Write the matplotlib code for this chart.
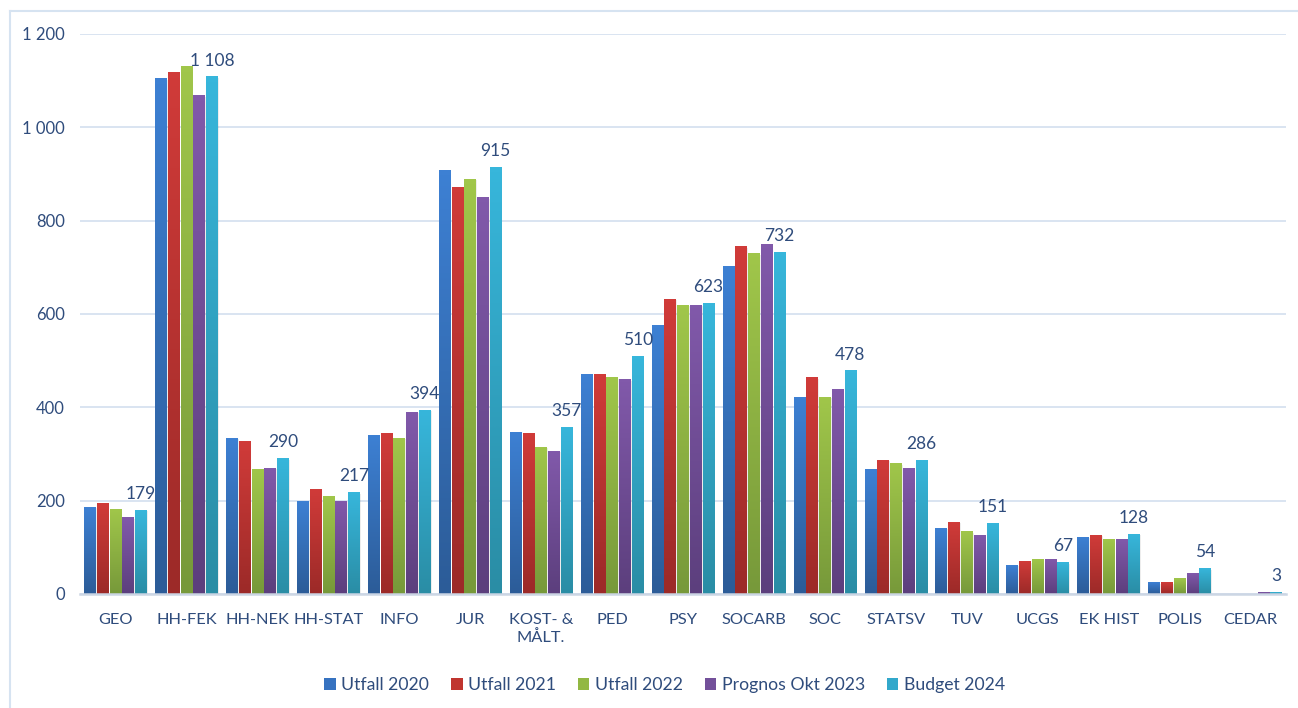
import numpy as np
import matplotlib
matplotlib.use("Agg")
import matplotlib.pyplot as plt
from matplotlib.colors import LinearSegmentedColormap
from matplotlib.patches import Rectangle, Patch
from matplotlib.lines import Line2D

plt.rcParams['font.family'] = ['Lato', 'DejaVu Sans']

categories = ["GEO", "HH-FEK", "HH-NEK", "HH-STAT", "INFO", "JUR", "KOST- &\nMÅLT.",
              "PED", "PSY", "SOCARB", "SOC", "STATSV", "TUV", "UCGS", "EK HIST", "POLIS", "CEDAR"]
series_names = ["Utfall 2020", "Utfall 2021", "Utfall 2022", "Prognos Okt 2023", "Budget 2024"]

utfall_2020 = [186, 1104, 334, 199, 339, 908, 347, 471, 576, 701, 422, 266, 141, 62, 122, 24, 0]
utfall_2021 = [195, 1118, 326, 223, 343, 872, 343, 471, 632, 744, 463, 287, 154, 69, 126, 24, 0]
utfall_2022 = [182, 1130, 266, 208, 334, 889, 315, 463, 619, 729, 422, 279, 133, 73, 116, 34, 0]
prognos_2023 = [163, 1068, 270, 199, 390, 849, 306, 459, 619, 748, 439, 270, 126, 73, 116, 43, 4]
budget_2024 = [179, 1108, 290, 217, 394, 915, 357, 510, 623, 732, 478, 286, 151, 67, 128, 54, 3]

series = [utfall_2020, utfall_2021, utfall_2022, prognos_2023, budget_2024]
top_colors = ["#3D80D3", "#D03B39", "#A0C64A", "#8159AA", "#37B6DB"]
bot_colors = ["#2C5C98", "#9C2A28", "#77993A", "#5C3F7D", "#2A8DA5"]
legend_colors = ["#3672C0", "#C0352F", "#92B843", "#73509A", "#32A8CB"]

text_color = "#2F4C7C"

fig = plt.figure(figsize=(12.98, 7.08), dpi=100)
ax = fig.add_axes([80/1298, 1 - 594/708, (1286-80)/1298, (594-34)/708])

n = len(categories)
slot = 0.9 / 5
gap_px = 1.2
px_per_unit = (1286 - 80) / n
bw = slot - gap_px / px_per_unit

grad = np.linspace(0, 1, 64).reshape(-1, 1)
for s, vals in enumerate(series):
    cmap = LinearSegmentedColormap.from_list(f"g{s}", [bot_colors[s], top_colors[s]])
    for i, v in enumerate(vals):
        if v <= 0:
            continue
        x0 = i - 0.45 + s * slot + (slot - bw) / 2
        ax.add_patch(Rectangle((x0 + 0.014, 0), bw, max(v - 2, 0), facecolor="#000000",
                               alpha=0.07, edgecolor="none", zorder=2))
        ax.imshow(grad, extent=[x0, x0 + bw, 0, v], origin="lower", aspect="auto",
                  cmap=cmap, zorder=3, interpolation="bilinear")

for i, v in enumerate(budget_2024):
    xc = i - 0.45 + 4 * slot + slot / 2
    lab = f"{v:,}".replace(",", " ")
    ax.annotate(lab, (xc, v), xytext=(0, 6), textcoords="offset points", ha="center",
                va="bottom", fontsize=12.5, color=text_color, zorder=5)

ax.set_xlim(-0.5, n - 0.5)
ax.set_ylim(0, 1200)
ax.set_yticks(np.arange(0, 1201, 200))
ax.set_yticklabels([f"{t:,}".replace(",", " ") for t in range(0, 1201, 200)])
ax.set_xticks(np.arange(n))
ax.set_xticklabels(categories)
ax.tick_params(axis="both", length=0, colors=text_color)
ax.tick_params(axis="x", pad=14, labelsize=11.8)
ax.tick_params(axis="y", pad=11, labelsize=12)
ax.grid(axis="y", color="#D9E4F1", linewidth=1.4, zorder=0)
ax.set_axisbelow(True)
for side in ["left", "right", "top"]:
    ax.spines[side].set_visible(False)
ax.spines["bottom"].set_color("#CCD6E4")
ax.spines["bottom"].set_linewidth(1.8)
ax.spines["bottom"].set_zorder(4)

handles = [Patch(facecolor=c, edgecolor="none") for c in legend_colors]
fig.legend(handles, series_names, loc="center", bbox_to_anchor=(0.512, 1 - 685/708), ncol=5,
           frameon=False, fontsize=12.7, handlelength=0.65, handleheight=0.65,
           handletextpad=0.3, columnspacing=1.25, labelcolor=text_color)

# chart-area border (left and top edges visible)
fig.add_artist(Line2D([10/1298, 10/1298], [0, 1 - 11/708], transform=fig.transFigure,
                      color="#D6E3F1", linewidth=1.5))
fig.add_artist(Line2D([10/1298, 1], [1 - 11/708, 1 - 11/708], transform=fig.transFigure,
                      color="#D6E3F1", linewidth=1.5))

fig.savefig("out.png", dpi=100)
